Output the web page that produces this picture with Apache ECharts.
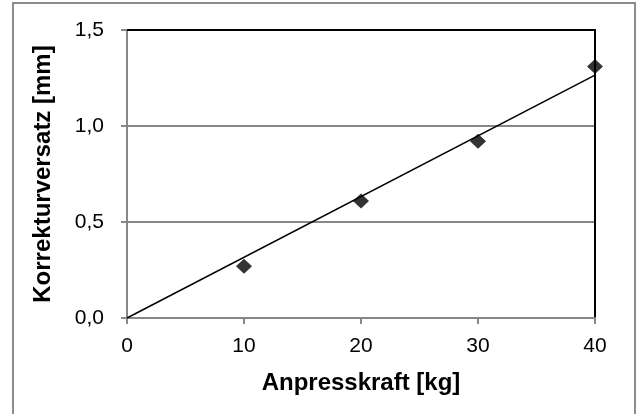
<!DOCTYPE html>
<html><head><meta charset="utf-8">
<script src="https://cdn.jsdelivr.net/npm/echarts@6/dist/echarts.min.js"></script>
<style>html,body{margin:0;padding:0;background:#fff}#c{width:637px;height:414px}</style>
</head><body><div id="c"></div>
<script>
var xValues = [10, 20, 30, 40];
var yValues = [0.27, 0.61, 0.92, 1.31];
var trendX = [0, 40];
var trendY = [0, 1.265];
var xTitle = 'Anpresskraft [kg]';
var yTitle = 'Korrekturversatz [mm]';

var pts = xValues.map(function(x, i){ return [x, yValues[i]]; });
var trend = trendX.map(function(x, i){ return [x, trendY[i]]; });
var font = 'Liberation Sans, Arial, sans-serif';
var gray = '#878787';

var chart = echarts.init(document.getElementById('c'), null, {renderer:'canvas'});
chart.setOption({
  animation: false,
  backgroundColor: '#fff',
  graphic: [{type:'rect', shape:{x:13, y:3, width:622, height:430}, style:{fill:'none', stroke:'#8c8c8c', lineWidth:2}, z:-1}],
  grid: {left:127, right:42, top:30, bottom:96},
  xAxis: [{
    type:'value', min:0, max:40, interval:10,
    name: xTitle, nameLocation:'middle', nameGap:53,
    nameTextStyle:{fontFamily:font, fontSize:24, fontWeight:'bold', color:'#000'},
    axisLine:{show:true, onZero:false, lineStyle:{color:gray, width:2}},
    axisTick:{show:true, length:6, lineStyle:{color:gray, width:2}},
    axisLabel:{fontFamily:font, fontSize:21, color:'#000', margin:18},
    splitLine:{show:false}
  },{
    type:'value', min:0, max:40, interval:10, position:'top',
    axisLine:{show:true, onZero:false, lineStyle:{color:'#000', width:2}},
    axisTick:{show:false}, axisLabel:{show:false}, splitLine:{show:false}
  }],
  yAxis: [{
    type:'value', min:0, max:1.5, interval:0.5,
    name: yTitle, nameLocation:'middle', nameGap:72, nameRotate:90,
    nameTextStyle:{fontFamily:font, fontSize:24, fontWeight:'bold', color:'#000'},
    axisLine:{show:true, onZero:false, lineStyle:{color:gray, width:2}},
    axisTick:{show:true, length:6, lineStyle:{color:gray, width:2}},
    axisLabel:{fontFamily:font, fontSize:21, color:'#000', margin:23,
      formatter:function(v){ return v.toFixed(1).replace('.', ','); }},
    splitLine:{show:true, lineStyle:{color:gray, width:2}}
  },{
    type:'value', min:0, max:1.5, interval:0.5, position:'right',
    axisLine:{show:true, onZero:false, lineStyle:{color:'#000', width:2}},
    axisTick:{show:false}, axisLabel:{show:false}, splitLine:{show:false}
  }],
  series: [{
    type:'line', data: trend, showSymbol:false, symbol:'none',
    lineStyle:{color:'#000', width:1.5}, z:3
  },{
    type:'scatter', data: pts, symbol:'diamond', symbolSize:[16,15],
    itemStyle:{color:'#000'}, z:4
  }]
});
</script></body></html>
